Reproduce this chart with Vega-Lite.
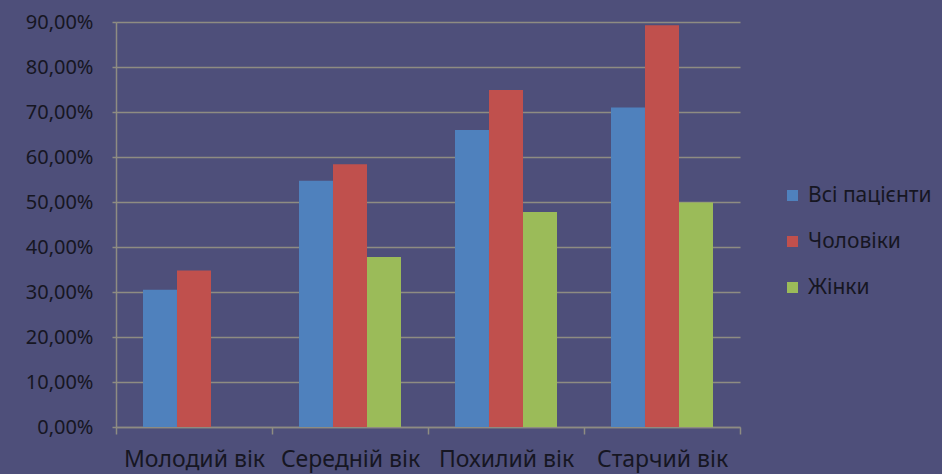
{
  "$schema": "https://vega.github.io/schema/vega-lite/v6.json",
  "autosize": {"type": "none"},
  "padding": {"left": 116, "top": 22, "right": 202, "bottom": 47},
  "width": 624,
  "height": 405,
  "background": "#4e4f7a",
  "config": {
    "view": {"stroke": null},
    "font": "Noto Sans",
    "axis": {"labelColor": "#161622", "domainColor": "#8e8c82", "tickColor": "#8e8c82", "gridColor": "#8e8c82"}
  },
  "data": {
    "values": [
      {"age": "Молодий вік", "group": "Всі пацієнти", "value": 0.305},
      {"age": "Молодий вік", "group": "Чоловіки", "value": 0.348},
      {"age": "Середній вік", "group": "Всі пацієнти", "value": 0.547},
      {"age": "Середній вік", "group": "Чоловіки", "value": 0.584},
      {"age": "Середній вік", "group": "Жінки", "value": 0.378},
      {"age": "Похилий вік", "group": "Всі пацієнти", "value": 0.66},
      {"age": "Похилий вік", "group": "Чоловіки", "value": 0.749},
      {"age": "Похилий вік", "group": "Жінки", "value": 0.478},
      {"age": "Старчий вік", "group": "Всі пацієнти", "value": 0.71},
      {"age": "Старчий вік", "group": "Чоловіки", "value": 0.893},
      {"age": "Старчий вік", "group": "Жінки", "value": 0.499}
    ]
  },
  "mark": {"type": "bar"},
  "encoding": {
    "x": {
      "field": "age", "type": "nominal",
      "sort": ["Молодий вік", "Середній вік", "Похилий вік", "Старчий вік"],
      "scale": {"paddingInner": 0, "paddingOuter": 0},
      "axis": {"title": null, "labelAngle": 0, "labelFontSize": 23, "labelLimit": 300, "tickBand": "extent", "tickSize": 7, "tickWidth": 1.5, "domainWidth": 1.5, "labelPadding": 14, "grid": false}
    },
    "xOffset": {
      "field": "group", "type": "nominal",
      "sort": ["Всі пацієнти", "Чоловіки", "Жінки"],
      "scale": {"domain": ["Всі пацієнти", "Чоловіки", "Жінки"], "paddingInner": 0, "paddingOuter": 0.794}
    },
    "y": {
      "field": "value", "type": "quantitative",
      "scale": {"domain": [0, 0.9], "nice": false},
      "axis": {"title": null, "values": [0, 0.1, 0.2, 0.3, 0.4, 0.5, 0.6, 0.7, 0.8, 0.9],
        "labelExpr": "replace(format(datum.value, '.2%'), '.', ',')",
        "labelFontSize": 20, "tickSize": 4, "tickWidth": 1.5, "domainWidth": 1.5, "gridWidth": 1.5, "labelPadding": 19, "grid": true}
    },
    "color": {
      "field": "group", "type": "nominal",
      "sort": ["Всі пацієнти", "Чоловіки", "Жінки"],
      "scale": {"domain": ["Всі пацієнти", "Чоловіки", "Жінки"], "range": ["#4f81bd", "#c0504d", "#9bbb59"]},
      "legend": {"title": null, "orient": "none", "legendX": 666, "legendY": 163, "symbolType": "square", "symbolSize": 121, "symbolStrokeWidth": 0, "symbolOpacity": 1, "labelFontSize": 21, "labelColor": "#161622", "rowPadding": 24, "labelOffset": 5, "labelLimit": 300}
    }
  }
}
